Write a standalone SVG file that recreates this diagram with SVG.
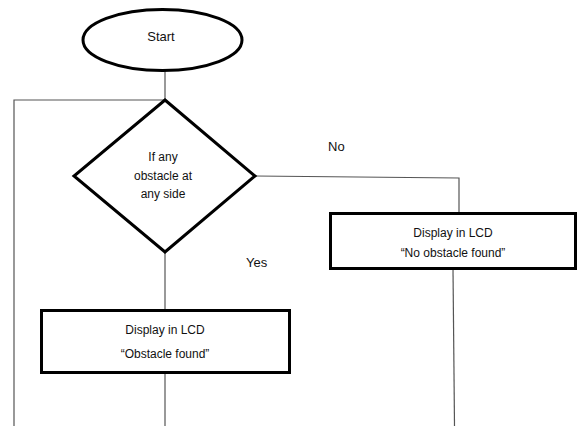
<svg xmlns="http://www.w3.org/2000/svg" width="577" height="426" viewBox="0 0 577 426">
<style>
.shape{fill:#fff;stroke:#000;stroke-width:3}
.conn{fill:none;stroke:#555;stroke-width:1.2}
text{font-family:"Liberation Sans",Arial,sans-serif;font-size:12px;fill:#111;text-anchor:middle}
.lbl{text-anchor:start;font-size:13px}
</style>
<rect width="577" height="426" fill="#fff"/>
<g id="connectors">
<path class="conn" d="M165,71 V100"/>
<path class="conn" d="M165,100 H14 V426"/>
<path class="conn" d="M255,176 L459,178 V213"/>
<path class="conn" d="M165,252 V310"/>
<path class="conn" d="M165,373 V426"/>
<path class="conn" d="M453,269 L454.5,426"/>
</g>
<g id="start">
<ellipse class="shape" cx="162.5" cy="40" rx="79.5" ry="30.5"/>
<text x="161" y="41" style="font-size:13px">Start</text>
</g>
<g id="decision">
<polygon class="shape" points="165,100 255,176 165,252 74,176"/>
<text x="163" y="161">If any</text>
<text x="163" y="180">obstacle at</text>
<text x="163" y="198">any side</text>
</g>
<g id="display-no">
<rect class="shape" x="330.5" y="213.5" width="245" height="55"/>
<text x="453" y="237">Display in LCD</text>
<text x="453" y="257">“No obstacle found”</text>
</g>
<g id="display-yes">
<rect class="shape" x="41.5" y="310.5" width="248" height="62"/>
<text x="165" y="334">Display in LCD</text>
<text x="165" y="358">“Obstacle found”</text>
</g>
<g id="labels">
<text class="lbl" x="328" y="151">No</text>
<text class="lbl" x="246" y="267">Yes</text>
</g>
</svg>
